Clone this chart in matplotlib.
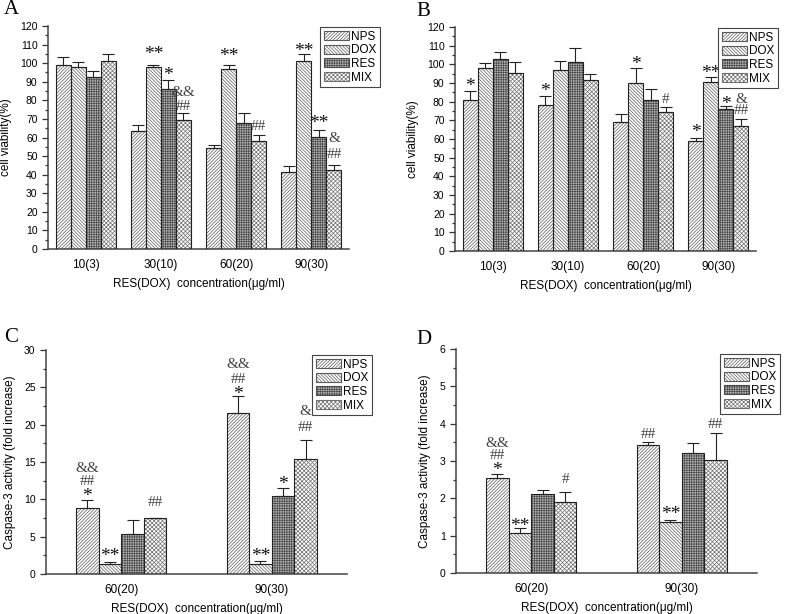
import matplotlib
matplotlib.use("Agg")
import matplotlib.pyplot as plt
import numpy as np
from matplotlib.patches import Patch
from matplotlib.ticker import MultipleLocator

plt.rcParams['font.family'] = ['Liberation Sans', 'DejaVu Sans']
plt.rcParams['hatch.linewidth'] = 0.5

series = ["NPS", "DOX", "RES", "MIX"]

# Panel A: cell viability (%)
a_groups = ["10(3)", "30(10)", "60(20)", "90(30)"]
a_vals = {
    "NPS": [99.2, 63.7, 54.6, 41.5],
    "DOX": [98.0, 98.0, 97.0, 101.2],
    "RES": [92.5, 86.0, 68.0, 60.3],
    "MIX": [101.2, 69.6, 58.2, 42.6],
}
a_errs = {
    "NPS": [4.2, 3.0, 1.2, 3.0],
    "DOX": [2.8, 0.8, 2.2, 3.8],
    "RES": [3.5, 5.2, 5.0, 4.0],
    "MIX": [3.5, 3.6, 3.4, 2.4],
}
a_notes = [  # (group, series, text, y)
    (1, 1, "**", 107), (1, 2, "*", 96), (1, 3, "&&", 84), (1, 3, "##", 76.6),
    (2, 1, "**", 106), (2, 3, "##", 66),
    (3, 1, "**", 109), (3, 2, "**", 70), (3, 3, "&", 59.6), (3, 3, "##", 50.6),
]

# Panel B: cell viability (%)
b_groups = ["10(3)", "30(10)", "60(20)", "90(30)"]
b_vals = {
    "NPS": [81.0, 78.0, 69.0, 58.7],
    "DOX": [97.8, 96.8, 90.0, 90.5],
    "RES": [102.8, 101.0, 81.0, 76.2],
    "MIX": [95.6, 91.5, 74.5, 67.2],
}
b_errs = {
    "NPS": [4.6, 5.0, 4.3, 2.0],
    "DOX": [2.8, 4.8, 8.0, 2.8],
    "RES": [3.6, 7.5, 5.6, 1.4],
    "MIX": [5.8, 3.3, 2.5, 3.4],
}
b_notes = [
    (0, 0, "*", 90.7), (1, 0, "*", 87.7),
    (2, 1, "*", 102.3), (2, 3, "#", 81.4),
    (3, 0, "*", 65.7), (3, 1, "**", 97.5), (3, 2, "*", 80.9), (3, 3, "&", 81.3), (3, 3, "##", 75.1),
]

# Panel C: caspase-3 activity (fold increase)
c_groups = ["60(20)", "90(30)"]
c_vals = {
    "NPS": [8.9, 21.6],
    "DOX": [1.3, 1.4],
    "RES": [5.35, 10.45],
    "MIX": [7.45, 15.4],
}
c_errs = {
    "NPS": [1.0, 2.3],
    "DOX": [0.25, 0.35],
    "RES": [1.85, 1.05],
    "MIX": [0.05, 2.6],
}
c_notes = [
    (0, 0, "*", 11.0), (0, 0, "##", 12.4), (0, 0, "&&", 14.15),
    (0, 1, "**", 3.0), (0, 3, "##", 9.55),
    (1, 0, "*", 24.6), (1, 0, "##", 26.1), (1, 0, "&&", 28.0),
    (1, 1, "**", 2.9), (1, 2, "*", 12.6), (1, 3, "##", 19.6), (1, 3, "&", 21.8),
]

# Panel D: caspase-3 activity (fold increase)
d_groups = ["60(20)", "90(30)"]
d_vals = {
    "NPS": [2.54, 3.42],
    "DOX": [1.07, 1.37],
    "RES": [2.12, 3.21],
    "MIX": [1.91, 3.03],
}
d_errs = {
    "NPS": [0.12, 0.08],
    "DOX": [0.13, 0.06],
    "RES": [0.11, 0.27],
    "MIX": [0.27, 0.71],
}
d_notes = [
    (0, 0, "*", 2.88), (0, 0, "##", 3.15), (0, 0, "&&", 3.48),
    (0, 1, "**", 1.38), (0, 3, "#", 2.5),
    (1, 0, "##", 3.7), (1, 1, "**", 1.7), (1, 3, "##", 3.99),
]

styles = {
    "NPS": dict(facecolor="white", hatch="//////////", hc="#5a5a5a"),
    "DOX": dict(facecolor="white", hatch="\\\\\\\\\\\\\\\\\\\\", hc="#5a5a5a"),
    "RES": dict(facecolor="#b4b4b4", hatch="+++++++", hc="#4a4a4a"),
    "MIX": dict(facecolor="white", hatch="xxxxxxxx", hc="#707070"),
}

W, H = 787, 614
fig = plt.figure(figsize=(W / 100, H / 100), dpi=100)
SERIF = ["Liberation Serif", "DejaVu Serif"]


def px_axes(l, r, t, b):
    return fig.add_axes([l / W, 1 - b / H, (r - l) / W, (b - t) / H])


def draw(ax, groups, vals, errs, notes, width, ymax, major, minor, ylabel,
         legend_anchor, letter, letter_xy):
    x = np.arange(1, len(groups) + 1)
    for i, s in enumerate(series):
        st = styles[s]
        xs = x + (i - 1.5) * width
        ax.bar(xs, vals[s], width, facecolor=st["facecolor"], hatch=st["hatch"],
               edgecolor=st["hc"], linewidth=0, zorder=2)
        ax.bar(xs, vals[s], width, facecolor="none", edgecolor="#222222",
               linewidth=0.8, zorder=3)
        ax.errorbar(xs, vals[s], yerr=[np.zeros(len(groups)), errs[s]], fmt="none",
                    ecolor="#222222", elinewidth=0.8, capsize=4, capthick=0.8, zorder=4)
    for g, si, txt, y in notes:
        xx = x[g] + (si - 1.5) * width
        if "*" in txt:
            ax.annotate(txt, (xx, y), xytext=(0, -3.3), textcoords="offset points",
                        ha="center", va="center", fontsize=14, family=SERIF,
                        color="#111111", zorder=5)
        else:
            ax.annotate(txt, (xx, y), ha="center", va="center", fontsize=11,
                        family=SERIF, color="#444444", zorder=5)
    ax.set_xlim(0.5, len(groups) + 0.5)
    ax.set_ylim(0, ymax)
    ax.set_xticks(x)
    ax.set_xticklabels(groups)
    ax.yaxis.set_major_locator(MultipleLocator(major))
    ax.yaxis.set_minor_locator(MultipleLocator(minor))
    ax.tick_params(axis="y", which="major", direction="out", length=4.5, width=0.9,
                   labelsize=7.5, pad=3, color="#333333")
    ax.tick_params(axis="y", which="minor", direction="out", length=2.5, width=0.9,
                   color="#333333")
    ax.tick_params(axis="x", length=0, labelsize=8.5, pad=7)
    for sp in ("top", "right"):
        ax.spines[sp].set_visible(False)
    for sp in ("left", "bottom"):
        ax.spines[sp].set_linewidth(1.1)
        ax.spines[sp].set_color("#444444")
    ax.set_ylabel(ylabel, fontsize=8.5, labelpad=6)
    ax.set_xlabel("RES(DOX)  concentration(\u03bcg/ml)", fontsize=8.5, labelpad=5)
    handles = [Patch(facecolor=styles[s]["facecolor"], hatch=styles[s]["hatch"],
                     edgecolor=styles[s]["hc"], linewidth=0.8) for s in series]
    leg = ax.legend(handles, series, loc="upper right", bbox_to_anchor=legend_anchor,
                    bbox_transform=fig.transFigure, fontsize=8.5, frameon=True,
                    fancybox=False, edgecolor="#444444", framealpha=1,
                    handlelength=2.1, handleheight=0.8, labelspacing=0.15,
                    borderpad=0.3, handletextpad=0.2, borderaxespad=0)
    leg.get_frame().set_linewidth(0.8)
    fig.text(letter_xy[0] / W, 1 - letter_xy[1] / H, letter, fontsize=15,
             family=SERIF, ha="left", va="center")


axA = px_axes(48, 349, 26, 249)
draw(axA, a_groups, a_vals, a_errs, a_notes, 0.2, 120, 10, 5, "cell viability(%)",
     (380 / W, 1 - 27 / H), "A", (4, 10))
axB = px_axes(455, 756, 27, 251)
draw(axB, b_groups, b_vals, b_errs, b_notes, 0.2, 120, 10, 5, "cell viability(%)",
     (778 / W, 1 - 28 / H), "B", (416, 11))
axC = px_axes(46, 347, 350, 574)
draw(axC, c_groups, c_vals, c_errs, c_notes, 0.15, 30, 5, 2.5,
     "Caspase-3 activity (fold increase)", (372 / W, 1 - 355 / H), "C", (4, 338))
axD = px_axes(456, 757, 349, 573)
draw(axD, d_groups, d_vals, d_errs, d_notes, 0.15, 6, 1, 0.5,
     "Caspase-3 activity (fold increase)", (780 / W, 1 - 354 / H), "D", (416, 340))

fig.savefig("out.png", dpi=100)
